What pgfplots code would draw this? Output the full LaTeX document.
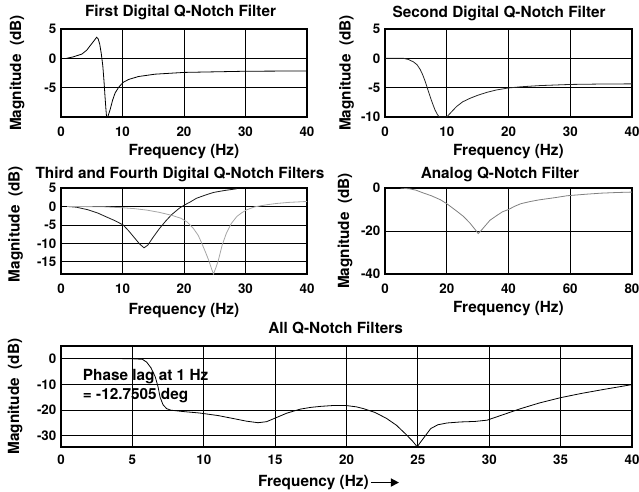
\documentclass[border=0pt]{standalone}
\usepackage{fontspec}
\setmainfont{TeX Gyre Heros}
\usepackage{pgfplots}
\pgfplotsset{compat=1.18}
\usetikzlibrary{arrows.meta}
\pgfplotsset{
 qn/.style={
  scale only axis,
  anchor=north west,
  axis line style={line width=1pt},
  grid=major,
  major grid style={black, line width=0.6pt},
  major tick length=0pt,
  /pgf/number format/assume math mode=true,
  tick label style={font=\fontsize{10}{12}\selectfont\bfseries},
  xticklabel style={yshift=-3.7pt},
  label style={font=\fontsize{11.5}{13}\selectfont\bfseries, inner sep=0pt},
  xlabel style={at={(axis description cs:0.5,0)}, anchor=north},
  ylabel style={anchor=center},
  title style={font=\fontsize{11.5}{13}\selectfont\bfseries, inner sep=0pt, at={(axis description cs:0.5,1)}, anchor=base},
  xlabel={Frequency (Hz)},
  ylabel={Magnitude\ \ (dB)},
 },
}
\begin{document}
\begin{tikzpicture}
\useasboundingbox (0,0) rectangle (479.25pt,-369pt);
% Plot 1
\begin{axis}[qn, at={(45.75pt,-21.75pt)}, width=184.5pt, height=66pt,
 xmin=0, xmax=40, ymin=-10, ymax=5, xtick={0,10,20,30,40}, ytick={-5,0,5},
 title={First Digital Q-Notch Filter}, title style={xshift=-2.6pt, yshift=3pt},
 ylabel style={at={(axis description cs:-0.179,0.5)}},
 xlabel style={yshift=-20.5pt}]
\addplot[black, line width=0.6pt] coordinates {
(0.9,0)(2,0.25)(3.4,0.73)(4.2,1.4)(4.7,2.1)(5.3,2.9)(5.8,3.6)(6.05,3.3)(6.3,2.4)(6.55,0.8)(6.8,-1.3)(7.0,-4)(7.15,-6.4)(7.3,-8.6)(7.4,-9.9)(7.6,-10)(8,-8.7)(8.4,-7.1)(8.8,-5.9)(9.4,-4.9)(10.1,-4.1)(11,-3.6)(12.6,-3.1)(15.3,-2.7)(20,-2.4)(25,-2.3)(30,-2.2)(40,-2.15)};
\end{axis}
% Plot 2
\begin{axis}[qn, at={(288.75pt,-21.75pt)}, width=185.25pt, height=66pt,
 xmin=0, xmax=40, ymin=-10, ymax=5, xtick={0,10,20,30,40}, ytick={-10,-5,0,5},
 title={Second Digital Q-Notch Filter}, title style={xshift=-7pt, yshift=2.5pt},
 ylabel style={at={(axis description cs:-0.156,0.5)}},
 xlabel style={yshift=-20.5pt}]
\addplot[black!85, line width=0.6pt] coordinates {
(0,0)(3,0)(3.8,-0.2)(4.6,-0.6)(5.2,-1.1)(5.7,-1.9)(6.1,-2.8)(6.5,-3.9)(6.9,-5.2)(7.3,-6.5)(7.7,-7.7)(8.1,-8.8)(8.5,-9.6)(8.8,-10)(10,-10)(10.7,-9.2)(11.6,-8.2)(12.6,-7.4)(13.8,-6.8)(15,-6.3)(16.5,-5.8)(18,-5.4)(20,-5.05)(22,-4.85)(25,-4.65)(30,-4.45)(35,-4.38)(40,-4.35)};
\end{axis}
% Plot 3
\begin{axis}[qn, at={(45.75pt,-141pt)}, width=184.5pt, height=64.5pt,
 xmin=0, xmax=40, ymin=-18.3, ymax=5, xtick={0,10,20,30,40}, ytick={-15,-10,-5,0,5},
 title={Third and Fourth Digital Q-Notch Filters}, title style={xshift=-3pt, yshift=1.5pt},
 ylabel style={at={(axis description cs:-0.185,0.58)}},
 xlabel style={yshift=-21.5pt}]
\addplot[black!90, line width=0.6pt] coordinates {
(1,0)(2.5,-0.2)(4.4,-0.9)(6,-1.8)(7.2,-2.7)(8.7,-3.8)(10.1,-5)(11,-6.6)(12,-8.6)(12.8,-10.2)(13.5,-11.2)(14.1,-10.5)(15,-8.3)(16,-6)(17,-4)(18,-2.2)(19.3,-0.4)(20.2,0.5)(21,1.2)(22,2.2)(23.5,3.1)(24.8,3.8)(26.5,4.3)(28.6,4.8)};
\addplot[gray!70, line width=0.6pt] coordinates {
(1,0)(5,-0.05)(7,-0.1)(10,-0.35)(12,-0.6)(14,-1.0)(16,-1.6)(18,-2.4)(19.5,-3.2)(20.5,-4.2)(21.5,-5.9)(22.3,-7.8)(22.9,-10)(23.5,-12.4)(24,-14.5)(24.5,-17)(24.8,-18.3)(25.2,-16.5)(25.6,-14.5)(26.2,-10.5)(26.9,-7.2)(27.7,-4.6)(28.6,-2.7)(29.4,-1.7)(30.2,-0.9)(31.5,-0.1)(33.4,0.45)(35,0.8)(37,1.1)(40,1.35)};
\end{axis}
% Plot 4
\begin{axis}[qn, at={(288.75pt,-141pt)}, width=185.25pt, height=64.5pt,
 xmin=0, xmax=80, ymin=-40, ymax=0, xtick={0,20,40,60,80}, ytick={-40,-20,0},
 title={Analog Q-Notch Filter}, title style={xshift=-6.4pt, yshift=1.5pt},
 ylabel style={at={(axis description cs:-0.162,0.5)}},
 xlabel style={yshift=-20.5pt}]
\addplot[gray, line width=0.6pt] coordinates {
(5,0)(8,-0.4)(10,-1)(12.4,-2.3)(15,-3.6)(18,-5.5)(20,-7.3)(23,-10.5)(25.4,-13.2)(27.5,-16.3)(29.3,-19.5)(30.2,-21.2)(31,-20)(32.5,-17.5)(34,-15)(36,-13)(38,-11.1)(40,-10)(42,-8.5)(44,-7.3)(47,-6.3)(50,-5.5)(55,-4.5)(59,-3.6)(65,-2.9)(70,-2.4)(75,-2.1)(80,-1.9)};
\end{axis}
% Plot 5
\begin{axis}[qn, at={(45.75pt,-259.5pt)}, width=428.25pt, height=75.75pt,
 xmin=0, xmax=40, ymin=-34.5, ymax=5, xtick={0,5,10,15,20,25,30,35,40}, ytick={-30,-20,-10,0},
 xticklabel style={yshift=1.2pt},
 title={All Q-Notch Filters}, title style={xshift=-8.2pt, yshift=3.75pt},
 ylabel style={at={(axis description cs:-0.0806,0.5)}},
 xlabel style={yshift=-21pt, xshift=-24.8pt, name=xlfive}]
\addplot[black, line width=0.6pt] coordinates {
(4.3,0)(5,0)(5.7,-0.2)(6.0,-1.3)(6.3,-3.5)(6.6,-7)(6.8,-11)(6.94,-15)(7.15,-18)(7.4,-19.5)(7.7,-20.1)(8.5,-20.6)(9.7,-21.2)(11,-22.2)(12.1,-23.4)(13,-24.4)(13.8,-25)(14.4,-24.6)(15,-23.2)(15.8,-21.3)(16.75,-19.7)(17.5,-19)(18.2,-18.6)(19,-18.3)(20,-18.3)(20.7,-18.8)(21.2,-19.5)(22,-21)(22.8,-23.3)(23.5,-26)(24.1,-29.2)(24.6,-32)(24.95,-34.4)(25.4,-31)(25.9,-27.3)(26.4,-25.8)(27.05,-25.1)(28,-24.7)(29,-24.5)(29.85,-24)(31,-21.8)(32.2,-19.5)(33.5,-17.3)(35,-15.2)(36.5,-13.5)(38,-12)(40,-10.1)};
\node[anchor=base west, inner sep=0pt, font=\fontsize{11.5}{13}\selectfont\bfseries] at (axis cs:1.52,-8.4) {Phase lag at 1 Hz};
\node[anchor=base west, inner sep=0pt, font=\fontsize{11.5}{13}\selectfont\bfseries] at (axis cs:1.52,-15.9) {= -12.7505 deg};
\end{axis}
\draw[-{Triangle[length=6pt,width=6pt]}, line width=1.1pt] ([xshift=1.5pt]xlfive.east) -- ++(21pt,0);
\end{tikzpicture}
\end{document}
